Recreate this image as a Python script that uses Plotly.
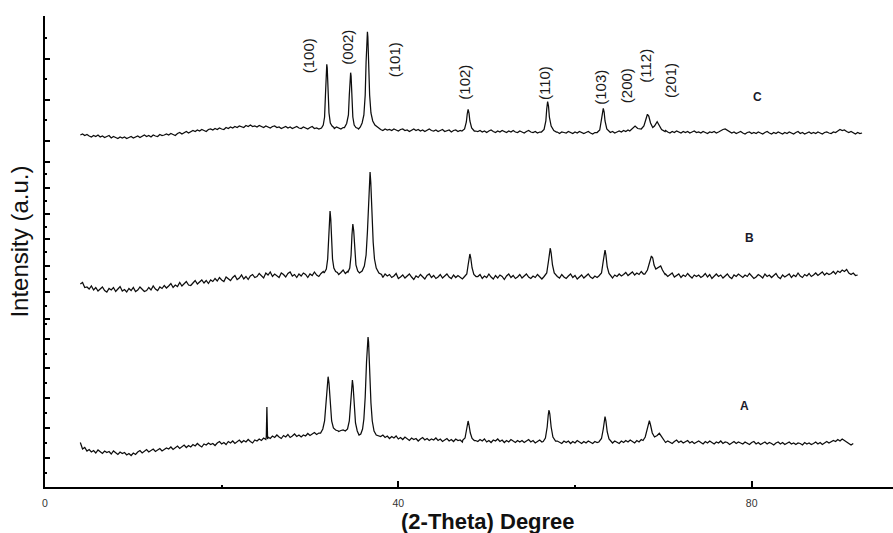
import numpy as np
import plotly.graph_objects as go

# ---- XRD patterns of three samples (2-theta in degrees, intensity in a.u.) ----
STEP = 0.25
THETA_START = 4.0

# background scans sampled every 0.25 deg from 4 deg
BASE_C = [
    352, 353, 351.5, 352.5, 351, 350, 351.5, 350.5, 352, 350, 351, 349.5, 350.5, 351.5, 349, 350.5, 349.5, 348.5, 350, 349,
    350, 348.5, 349.5, 350.5, 349, 350, 351, 349.5, 350.5, 352, 350.5, 351.5, 350, 352, 351, 350.5, 352.5, 351.5, 352, 353,
    352, 353.5, 352.5, 351.5, 353.5, 354.5, 353, 354, 355.5, 354, 355, 356.5, 355.5, 357, 356, 357.5, 356.5, 355.5, 357.5, 358,
    357, 358.5, 357.5, 359, 358, 357.5, 359.5, 358.5, 360, 359, 360.5, 359.5, 361, 360, 359.5, 361.5, 360.5, 362, 360.5, 361,
    360, 361.5, 360.5, 359.5, 361, 360, 359, 360.5, 361, 359.5, 360, 358.5, 359.5, 360.5, 359, 360, 358.5, 359.5, 360.5, 359,
    358.5, 360, 359, 358, 359.5, 360.5, 358.5, 359, 358, 359.5, 358.5, 360, 359, 358, 359.5, 358.5, 360, 359, 358, 359.5,
    358.5, 359.5, 358, 359, 358.5, 359.5, 358, 357.5, 359, 358, 359, 357.5, 358.5, 357, 358, 359, 357.5, 356.5, 358, 357,
    357.5, 356.5, 358, 357, 356, 357.5, 358, 356.5, 357, 355.5, 357, 358, 356.5, 357.5, 356, 357, 355.5, 357, 358, 356.5,
    356, 357, 355.5, 356.5, 357.5, 355.5, 356, 357, 355, 356.5, 357, 355.5, 356.5, 355, 356, 357, 355.5, 356.5, 355, 356,
    355.5, 356.5, 355, 356, 354.5, 356, 357, 355.5, 354.5, 356, 355, 356.5, 355.5, 354.5, 356, 355, 356.5, 355, 354.5, 356,
    355, 354, 355.5, 356.5, 355, 354.5, 355.5, 354, 355, 356, 354.5, 355.5, 354, 355, 356, 354.5, 355, 353.5, 355, 354.5,
    354, 355.5, 354.5, 353.5, 355, 354, 355.5, 354.5, 353.5, 354.5, 355.5, 354, 353, 354.5, 355, 354, 355.5, 354.5, 353.5, 355,
    354.5, 355.5, 354, 355, 356, 355, 356.5, 355.5, 357, 356, 357.5, 356.5, 355.5, 357, 356, 357.5, 356.5, 355.5, 357, 356,
    356.5, 355.5, 356, 354.5, 355.5, 356.5, 355, 354, 355.5, 354.5, 356, 355, 354, 355.5, 354.5, 355.5, 354, 355, 356, 354.5,
    355, 354, 355.5, 354.5, 353.5, 355, 354.5, 355.5, 354, 355, 356.5, 357.5, 358, 356.5, 355, 354, 355, 353.5, 354.5, 355.5,
    354, 353, 354.5, 355, 353.5, 354.5, 353.5, 355, 354, 353, 354.5, 355.5, 354, 353, 354.5, 353.5, 355, 354, 353, 354.5,
    353.5, 355, 354, 353, 354.5, 355.5, 353.5, 354.5, 353, 354, 355, 353.5, 354.5, 353.5, 355, 354, 353, 354.5, 355, 354,
    353.5, 355, 354.5, 356, 357.5, 356.5, 357, 355.5, 354.5, 355.5, 354, 353, 354.5, 353.5, 354,
]

BASE_B = [
    203, 204.5, 199.5, 200, 198, 201, 197, 199.5, 196, 198.5, 200, 196.5, 195, 198.5, 197, 199.5, 195.5, 198, 200.5, 196,
    197.5, 195, 198.5, 196.5, 199.5, 195.5, 197, 200, 198, 195.5, 196.5, 199.5, 197, 201, 198, 196.5, 200, 198.5, 201.5, 199,
    201, 203.5, 199.5, 202, 200.5, 204.5, 201, 203, 205.5, 202, 201.5, 204, 206.5, 203, 205.5, 207, 204, 206.5, 203.5, 207,
    205.5, 208.5, 206, 209.5, 207, 205.5, 210, 208, 206.5, 209.5, 211.5, 207.5, 209, 212, 208, 210.5, 207.5, 211, 212.5, 209.5,
    210.5, 213.5, 211, 209, 214, 212, 215, 210.5, 213, 211.5, 209.5, 214, 212.5, 210, 213.5, 215, 211, 212.5, 209.5, 213,
    211, 214, 212.5, 209.5, 213, 211.5, 215, 212, 210.5, 213.5, 215.5, 212, 214, 211.5, 216, 213, 215.5, 212.5, 214.5, 217,
    213.5, 215.5, 212.5, 216, 214, 217, 213.5, 215, 216.5, 214, 212.5, 215, 211.5, 213.5, 210.5, 214, 212, 209.5, 213, 211,
    212.5, 209.5, 211, 213.5, 208.5, 210, 212, 209, 211.5, 213, 210, 207.5, 211, 209.5, 212.5, 210, 208, 211.5, 213, 209.5,
    211.5, 208.5, 210, 212.5, 209, 211, 213, 210, 208.5, 212, 209.5, 211.5, 210, 208, 212.5, 210.5, 209, 211.5, 213, 209.5,
    210.5, 212.5, 208.5, 211, 209.5, 213, 210, 208, 211.5, 209, 212, 210.5, 207.5, 211, 213, 209.5, 211.5, 208.5, 210, 212.5,
    209, 211.5, 213, 210, 208.5, 211, 209.5, 212.5, 210, 208, 211.5, 213.5, 209.5, 211, 208.5, 212, 210.5, 209, 212.5, 210,
    208.5, 211, 213, 209.5, 211.5, 208, 210.5, 212, 209, 211.5, 213, 210, 208.5, 211, 209.5, 212.5, 210, 208, 211.5, 210,
    211.5, 209, 212, 210.5, 213, 211, 212.5, 214.5, 211.5, 213, 215, 212, 214, 212.5, 215.5, 213, 214.5, 216, 213, 215,
    213.5, 216, 212.5, 214, 211.5, 213, 210.5, 212.5, 214, 210, 211.5, 213, 209.5, 212, 210.5, 213.5, 211, 209, 212, 210.5,
    212, 209.5, 211, 213.5, 210, 212.5, 208.5, 211, 213, 210.5, 212, 209, 211.5, 213, 210, 208.5, 212, 210.5, 213, 211,
    209.5, 212, 210.5, 213.5, 211, 208.5, 210, 212.5, 211, 209, 213, 210.5, 212, 209.5, 211.5, 213.5, 210, 208.5, 212, 210,
    211.5, 213, 209.5, 212, 210.5, 214, 211, 209.5, 212.5, 211, 213.5, 210.5, 212, 214, 211.5, 213, 215, 212, 214, 212.5,
    213.5, 215.5, 213, 216, 214.5, 217, 215.5, 217.5, 214, 212.5, 214, 211.5, 212,
]

BASE_A = [
    44.5, 38, 39.5, 36, 37.5, 35, 36.5, 34, 37, 35.5, 33.5, 36, 34.5, 35.5, 33, 36, 34.5, 32.5, 35, 33.5,
    34.5, 32, 33.5, 31.5, 34, 32.5, 35, 36.5, 34, 35.5, 37.5, 35, 36.5, 38, 35.5, 37, 38.5, 36, 37.5, 39,
    38, 40, 37.5, 39.5, 41, 38.5, 40.5, 42, 39.5, 41.5, 40, 42.5, 41, 43.5, 41.5, 40, 43, 42, 44, 42.5,
    43.5, 41.5, 44, 45.5, 43, 44.5, 42.5, 45.5, 44, 46, 43.5, 45, 47, 44.5, 46.5, 45, 47.5, 45.5, 44, 47,
    46, 48, 46.5, 49, 47.5, 50, 48.5, 51, 49.5, 52, 50, 48.5, 51.5, 50, 52.5, 49.5, 51, 53, 50.5, 52,
    50, 52, 51, 53.5, 51.5, 53, 54.5, 52.5, 54, 56, 55, 57, 56, 58, 57, 56, 57.5, 55.5, 56.5, 57,
    56, 55, 57, 55.5, 56.5, 54, 55, 53, 54.5, 52.5, 53, 51.5, 52.5, 50.5, 51.5, 53, 50.5, 52, 49.5, 51,
    48.5, 50.5, 49, 51, 48, 49.5, 47.5, 50, 48.5, 46.5, 49, 47.5, 48.5, 46, 48, 49.5, 47, 48.5, 46.5, 48,
    47, 49, 46.5, 48, 45.5, 47.5, 48.5, 46, 47.5, 45.5, 48, 46.5, 47, 45, 47.5, 46, 48, 45.5, 47, 46.5,
    45.5, 47.5, 46, 48, 45, 46.5, 44.5, 47, 46, 48, 45.5, 47, 44.5, 46.5, 45, 47.5, 46, 44.5, 46.5, 45,
    46.5, 44.5, 46, 47.5, 45, 46.5, 44, 45.5, 47, 45, 46, 44.5, 46.5, 45, 47, 44.5, 46, 45, 43.5, 46,
    44.5, 46, 43.5, 45.5, 44, 46.5, 45, 43.5, 45.5, 44, 46, 45, 43.5, 45.5, 44.5, 46, 44, 45.5, 46.5, 44.5,
    45.5, 44, 46, 45, 43.5, 46, 44.5, 46.5, 45, 47, 45.5, 44, 46.5, 45, 47.5, 46, 45, 47, 46, 48,
    47, 48.5, 46.5, 45, 46.5, 44.5, 46, 45, 43.5, 45.5, 47, 44.5, 46, 44, 45.5, 46.5, 44, 45.5, 43.5, 45,
    46, 44.5, 43, 45.5, 44, 46, 44.5, 43, 45, 44, 46, 43.5, 45, 44.5, 42.5, 44.5, 45.5, 43.5, 45, 44,
    43, 45, 44, 42.5, 44.5, 45.5, 43, 44.5, 42.5, 44, 45, 43, 44.5, 43.5, 42, 44, 45, 43, 44.5, 42.5,
    43.5, 45, 43, 44, 42.5, 44, 43.5, 42, 44.5, 43, 44, 42.5, 43.5, 45, 43, 44.5, 42.5, 44, 45.5, 44,
    45, 46.5, 45.5, 47.5, 46, 48, 46.5, 44.5, 43.5, 42, 43.5,
]

# diffraction peaks, recorded at a finer step: (2-theta, intensity)
PEAKS_C = [
    [(31.3, 359), (31.5, 362), (31.65, 370), (31.75, 392), (31.85, 418), (31.9, 422.7),
     (31.95, 419), (32.05, 396), (32.15, 374), (32.3, 364), (32.5, 361), (32.7, 359.5)],
    [(33.9, 359.5), (34.15, 363.5), (34.35, 372), (34.45, 392), (34.55, 412), (34.6, 414.3),
     (34.65, 411), (34.75, 390), (34.85, 370), (35.0, 362), (35.2, 359.5), (35.45, 358.5)],
    [(35.7, 360), (35.9, 364), (36.1, 372), (36.25, 392), (36.35, 425), (36.45, 453),
     (36.5, 455.3), (36.55, 450), (36.65, 420), (36.75, 392), (36.9, 374), (37.1, 366),
     (37.35, 362), (37.6, 360)],
    [(47.2, 356), (47.5, 358), (47.7, 365), (47.8, 373), (47.9, 377.7), (48.0, 374),
     (48.1, 366), (48.3, 359), (48.6, 356)],
    [(56.2, 355), (56.5, 357.5), (56.7, 366), (56.8, 378), (56.9, 385.3), (57.0, 381),
     (57.1, 370), (57.3, 361), (57.6, 356.5), (57.9, 355)],
    [(62.5, 354.5), (62.8, 357), (63.0, 366), (63.1, 374), (63.2, 378.7), (63.3, 375),
     (63.4, 366), (63.6, 358), (63.9, 355)],
    [(66.2, 356), (66.5, 358.5), (66.8, 361), (67.1, 358.5), (67.5, 358), (67.8, 361),
     (68.0, 367), (68.2, 372.7), (68.35, 371), (68.55, 364), (68.8, 359.5), (69.0, 361),
     (69.3, 365.3), (69.5, 362), (69.8, 357.5), (70.2, 355.5)],
]

PEAKS_B = [
    [(31.6, 214), (31.85, 218), (32.0, 228), (32.1, 250), (32.2, 271), (32.27, 276),
     (32.35, 268), (32.45, 246), (32.55, 228), (32.7, 219), (32.9, 215.5), (33.1, 214.5)],
    [(34.3, 215), (34.5, 219), (34.65, 232), (34.75, 252), (34.85, 263), (34.95, 256),
     (35.05, 236), (35.2, 222), (35.4, 216), (35.6, 214)],
    [(35.9, 216), (36.15, 221), (36.35, 232), (36.5, 255), (36.65, 290), (36.75, 313),
     (36.8, 315), (36.88, 305), (37.0, 275), (37.15, 245), (37.3, 228), (37.5, 219),
     (37.8, 214), (38.1, 212.5)],
    [(47.5, 210.5), (47.75, 213), (47.9, 222), (48.05, 231), (48.1, 233), (48.2, 229),
     (48.35, 219), (48.55, 212.5), (48.8, 210.5)],
    [(56.5, 210.5), (56.8, 214), (57.0, 226), (57.12, 237), (57.2, 239), (57.3, 234),
     (57.45, 222), (57.65, 214), (57.95, 210.5)],
    [(62.7, 211), (63.0, 214), (63.2, 226), (63.32, 235), (63.4, 237), (63.5, 232),
     (63.65, 220), (63.85, 213.5), (64.1, 211)],
    [(67.9, 213), (68.2, 217), (68.45, 226), (68.65, 231), (68.8, 229), (68.95, 222),
     (69.15, 218), (69.4, 219.5), (69.7, 221), (69.9, 217), (70.2, 212.5)],
]

PEAKS_A = [
    [(25.05, 50), (25.12, 80), (25.2, 48)],
    [(31.2, 54), (31.45, 58), (31.65, 66), (31.8, 82), (31.95, 103), (32.05, 110.3),
     (32.15, 104), (32.3, 82), (32.45, 66), (32.65, 59), (32.9, 57), (33.2, 56)],
    [(34.0, 56), (34.25, 58), (34.45, 66), (34.6, 86), (34.72, 103), (34.8, 107),
     (34.88, 101), (35.0, 80), (35.15, 64), (35.35, 56), (35.55, 52)],
    [(35.75, 53), (35.95, 58), (36.1, 68), (36.25, 90), (36.4, 125), (36.52, 148),
     (36.57, 150), (36.63, 145), (36.75, 112), (36.9, 84), (37.05, 66), (37.25, 56),
     (37.5, 52), (37.8, 51)],
    [(47.3, 47), (47.55, 49), (47.7, 56), (47.82, 63.5), (47.9, 66), (48.0, 62),
     (48.15, 54), (48.35, 48.5), (48.6, 46.5)],
    [(56.4, 45.5), (56.65, 49), (56.85, 60), (56.97, 72), (57.06, 77), (57.15, 73),
     (57.3, 60), (57.5, 50), (57.8, 46)],
    [(62.7, 45), (63.0, 48.5), (63.2, 58), (63.32, 67), (63.4, 70.5), (63.5, 66),
     (63.65, 55), (63.85, 48), (64.1, 45)],
    [(67.7, 46.5), (67.95, 50), (68.15, 58), (68.3, 64), (68.42, 66.3), (68.55, 62),
     (68.75, 54), (69.0, 50), (69.3, 51.5), (69.55, 53.7), (69.8, 50), (70.1, 47)],
]

# Miller indices of the reflections, with label anchor (2-theta, intensity)
HKL_LABELS = ["(100)", "(002)", "(101)", "(102)", "(110)", "(103)", "(200)", "(112)", "(201)"]
HKL_X = [29.8, 34.15, 39.6, 47.4, 56.5, 62.95, 65.85, 67.9, 70.75]
HKL_Y = [431, 440, 427.5, 405, 404, 399.3, 401.5, 421, 407]

SAMPLE_LABELS = ["C", "B", "A"]
SAMPLE_X = [80.7, 79.7, 79.2]
SAMPLE_Y = [390.3, 248.7, 81]

# left axis tick marks (three stacked scales)
Y_MAJOR = [471, 428, 387, 346, 325.3, 299.3, 273, 247.7, 221.3, 194.7, 168.3,
           147.7, 118.7, 89.3, 58.7, 28.7]
Y_MINOR = [448.7, 407.7, 367, 312.7, 286, 259.7, 234.7, 208, 181.3, 163, 133,
           103.7, 73.7, 44, 14.3]
X_MAJOR = [0, 40, 80]
X_MINOR = [20, 60]

assert len(BASE_C) == 355 and len(BASE_B) == 353 and len(BASE_A) == 351, \
    (len(BASE_C), len(BASE_B), len(BASE_A))


def assemble(base, peaks):
    theta = THETA_START + STEP * np.arange(len(base))
    pts = list(zip(theta.tolist(), base))
    for seg in peaks:
        lo, hi = seg[0][0], seg[-1][0]
        pts = [p for p in pts if not (lo <= p[0] <= hi)]
        pts.extend(seg)
    pts.sort(key=lambda p: p[0])
    return [p[0] for p in pts], [p[1] for p in pts]


FONT = "Liberation Sans, Arial, sans-serif"
fig = go.Figure()
for base, peaks in [(BASE_A, PEAKS_A), (BASE_B, PEAKS_B), (BASE_C, PEAKS_C)]:
    x, y = assemble(base, peaks)
    fig.add_trace(go.Scatter(x=x, y=y, mode="lines",
                             line=dict(color="#0d0d0d", width=1.25),
                             hoverinfo="skip", showlegend=False))

for txt, x, y in zip(HKL_LABELS, HKL_X, HKL_Y):
    fig.add_annotation(x=x, y=y, text=txt, textangle=-90, showarrow=False,
                       font=dict(family=FONT, size=15, color="#1a1a1a"),
                       xanchor="center", yanchor="middle")

for txt, x, y in zip(SAMPLE_LABELS, SAMPLE_X, SAMPLE_Y):
    fig.add_annotation(x=x, y=y, text="<b>%s</b>" % txt, showarrow=False,
                       font=dict(family=FONT, size=12, color="#1a1a2a"),
                       xanchor="center", yanchor="middle")

fig.add_annotation(xref="paper", yref="paper", x=0.522, y=-0.074,
                   text="<b>(2-Theta) Degree</b>", showarrow=False,
                   font=dict(family=FONT, size=22, color="#111111"),
                   xanchor="center", yanchor="middle")
fig.add_annotation(xref="paper", yref="paper", x=-0.0295, y=0.521,
                   text="Intensity (a.u.)", textangle=-90, showarrow=False,
                   font=dict(family=FONT, size=24, color="#111111"),
                   xanchor="center", yanchor="middle")

fig.update_layout(
    width=893, height=533,
    margin=dict(l=45, r=0, t=16, b=46),
    plot_bgcolor="white", paper_bgcolor="white",
    xaxis=dict(range=[0, 96], showgrid=False, zeroline=False,
               showline=True, linecolor="black", linewidth=2,
               tickmode="array", tickvals=X_MAJOR, ticktext=[str(v) for v in X_MAJOR],
               ticks="inside", ticklen=6, tickwidth=1.5, tickcolor="black",
               ticklabelstandoff=5,
               tickfont=dict(family=FONT, size=10.5, color="#333333"),
               minor=dict(tickmode="array", tickvals=X_MINOR, ticks="inside",
                          ticklen=2, tickwidth=1.5, tickcolor="black")),
    yaxis=dict(range=[0, 471], showgrid=False, zeroline=False,
               showline=True, linecolor="black", linewidth=2,
               tickmode="array", tickvals=Y_MAJOR, showticklabels=False,
               ticks="inside", ticklen=5, tickwidth=1.5, tickcolor="black",
               minor=dict(tickmode="array", tickvals=Y_MINOR, ticks="inside",
                          ticklen=2, tickwidth=1.5, tickcolor="black")),
)

fig.write_html("out.html")
